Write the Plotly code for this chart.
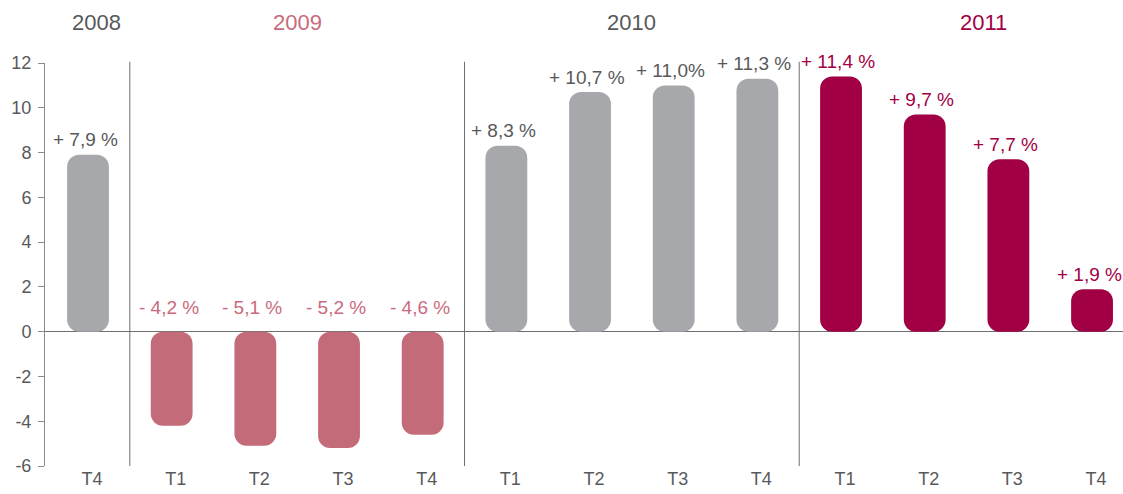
import plotly.graph_objects as go

# ---- data ----
quarters = ["T4", "T1", "T2", "T3", "T4", "T1", "T2", "T3", "T4", "T1", "T2", "T3", "T4"]
years = ["2008", "2009", "2009", "2009", "2009", "2010", "2010", "2010", "2010", "2011", "2011", "2011", "2011"]
values = [7.9, -4.2, -5.1, -5.2, -4.6, 8.3, 10.7, 11.0, 11.3, 11.4, 9.7, 7.7, 1.9]
labels = ["+ 7,9 %", "- 4,2 %", "- 5,1 %", "- 5,2 %", "- 4,6 %", "+ 8,3 %", "+ 10,7 %",
          "+ 11,0%", "+ 11,3 %", "+ 11,4 %", "+ 9,7 %", "+ 7,7 %", "+ 1,9 %"]
year_names = ["2008", "2009", "2010", "2011"]
y_ticks = [-6, -4, -2, 0, 2, 4, 6, 8, 10, 12]
y_tick_labels = ["-6", "-4", "-2", "0", "2", "4", "6", "8", "10", "12"]

# ---- styles ----
FONT = "Liberation Sans, Arial, sans-serif"
bar_colors = {"2008": "#A7A8AB", "2009": "#C46B7A", "2010": "#A7A8AB", "2011": "#A20045"}
text_colors = {"2008": "#58595B", "2009": "#C96B7C", "2010": "#58595B", "2011": "#A20045"}
year_x = {"2008": 0.1, "2009": 2.5, "2010": 6.5, "2011": 10.7}
separators = [0.5, 4.5, 8.5]

x = list(range(len(values)))
colors = [bar_colors[y] for y in years]

fig = go.Figure()
fig.add_trace(go.Bar(x=x, y=values, base=[0] * len(values),
                     marker=dict(color=colors, line=dict(width=0)),
                     width=0.5, hoverinfo="skip", showlegend=False))

for xi, v, lab, yr in zip(x, values, labels, years):
    fig.add_annotation(x=xi, y=max(v, 0), xref="x", yref="y", text=lab, showarrow=False,
                       yanchor="middle", yshift=15 if v > 0 else 24, xshift=-3,
                       font=dict(size=19, color=text_colors[yr], family=FONT))

for sx in separators:
    fig.add_shape(type="line", xref="x", yref="paper", x0=sx, x1=sx, y0=0, y1=1.003,
                  line=dict(color="#6D6E71", width=1))

for yn in year_names:
    fig.add_annotation(x=year_x[yn], xref="x", y=1.0, yref="paper", yanchor="middle", yshift=41,
                       text=yn, showarrow=False,
                       font=dict(size=22, color=text_colors[yn], family=FONT))

fig.update_layout(
    width=1123, height=494,
    margin=dict(l=45, r=0, t=63, b=28),
    paper_bgcolor="white", plot_bgcolor="white",
    barcornerradius=12,
    font=dict(family=FONT, color="#58595B"),
    xaxis=dict(range=[-0.514, 12.37], tickmode="array", tickvals=x, ticktext=quarters,
               showgrid=False, zeroline=False, showline=False, ticks="", automargin=False,
               tickfont=dict(size=18, color="#58595B"), ticklabelshift=4, ticklabelstandoff=0),
    yaxis=dict(range=[-6, 12], tickmode="array", tickvals=y_ticks, ticktext=y_tick_labels,
               automargin=False,
               showgrid=False, showline=True, linecolor="#8A8B8D", linewidth=1,
               ticks="outside", ticklen=6, tickcolor="#8A8B8D", tickwidth=1,
               zeroline=True, zerolinecolor="#6D6E71", zerolinewidth=1,
               tickfont=dict(size=18, color="#58595B"), ticklabelstandoff=3),
)

fig.write_html("out.html", config={"displayModeBar": False},
               post_script="document.body.style.margin='0';document.body.style.overflow='hidden';")
